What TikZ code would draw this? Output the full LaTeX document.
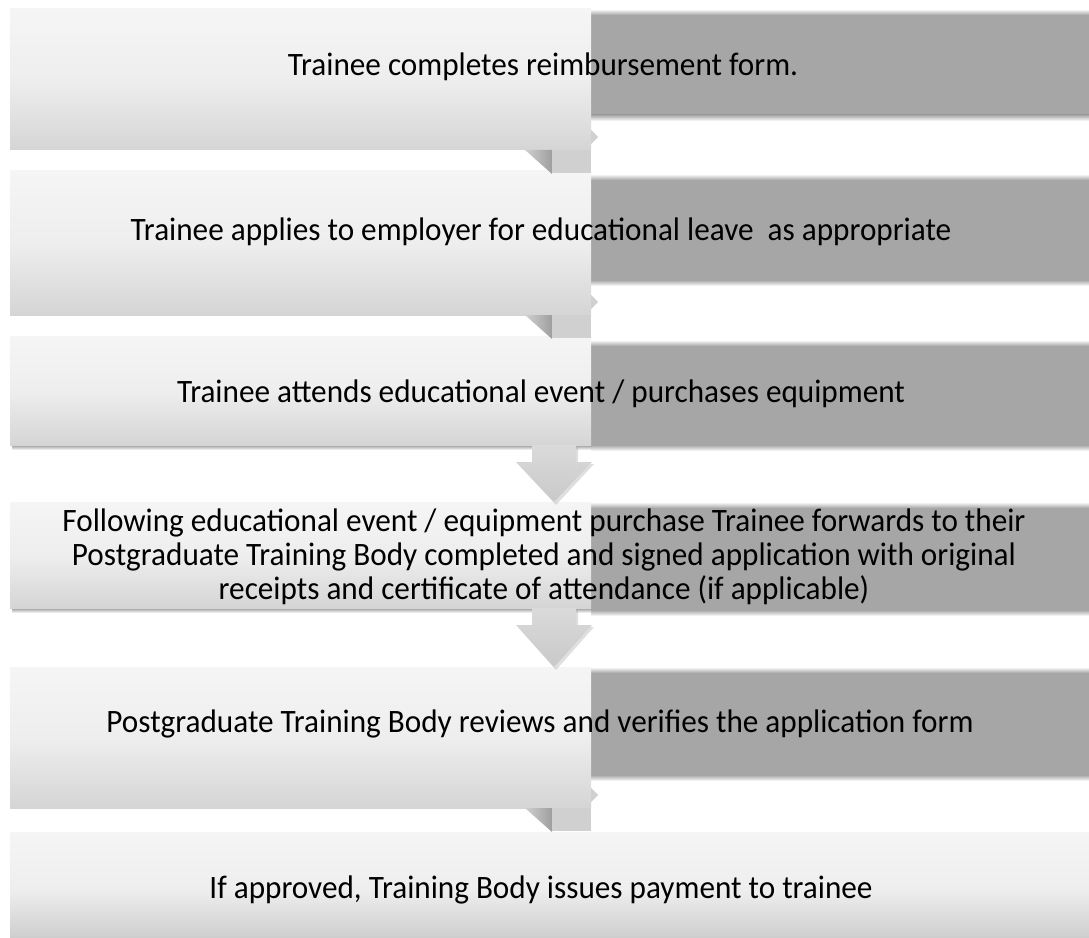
\documentclass[tikz,border=0pt]{standalone}
\usepackage{fontspec}
\setmainfont{Carlito}
\newfontfamily\stepfont[FakeStretch=0.955]{Carlito}
\definecolor{shadowgray}{HTML}{A6A6A6}
\definecolor{lighttop}{HTML}{F5F5F5}
\definecolor{lightmid}{HTML}{EEEEEE}
\definecolor{lightbot}{HTML}{D5D5D5}
\definecolor{stubgray}{HTML}{D0D0D0}
\definecolor{arrowtop}{HTML}{DADADA}
\definecolor{arrowbot}{HTML}{C9C9C9}
\tikzset{
  lightbox/.style={top color=lighttop, bottom color=lightbot, middle color=lightmid},
  steptext/.style={font=\stepfont\fontsize{24.5}{25.5}\selectfont, align=center, inner sep=0pt, text=black},
  arrowfill/.style={top color=arrowtop, bottom color=arrowbot},
  arrowshadow/.style={fill=black!35, opacity=0.35},
  stubfill/.style={fill=stubgray},
  stubshadow/.style={left color=stubgray, right color=black!38},
}
\newcommand\darkpart[2]{%
  \fill[shadowgray] (591,#1+3) rectangle (1089,#2-3);
  \shade[top color=white, bottom color=shadowgray] (591,#1-3) rectangle (1089,#1+3);
  \shade[top color=shadowgray, bottom color=white] (591,#2-3) rectangle (1089,#2+3);
}
\newcommand\stubarrow[1]{%
  \shade[stubshadow] (525,#1) -- (552,#1) -- (552,#1+24) -- cycle;
  \fill[stubfill] (552,#1) rectangle (591,#1+23);
  \fill[stubfill] (591,#1-20) -- (598,#1-13) -- (591,#1-6) -- cycle;
}
\newcommand\flowarrow[2]{%
  \fill[arrowshadow] (534,#1+2) -- (578,#1+2) -- (578,#1+19) -- (594,#1+19) -- (556,#2+3) -- (518,#1+19) -- (534,#1+19) -- cycle;
  \shade[arrowfill] (532,#1) -- (576,#1) -- (576,#1+17) -- (592,#1+17) -- (554,#2) -- (516,#1+17) -- (532,#1+17) -- cycle;
}
\newcommand\boxshadow[1]{%
  \shade[top color=black!40, bottom color=white] (12,#1) rectangle (591,#1+5);
}
\begin{document}
\begin{tikzpicture}[x=0.75pt,y=-0.75pt]
\useasboundingbox (0,0) rectangle (1089,938);
\fill[white] (0,0) rectangle (1089,938);

% row 1
\darkpart{12}{118}
\shade[lightbox] (10,9) rectangle (591,150);
\node[steptext] (t1) at (543,67) {Trainee completes reimbursement form.};

% row 2
\darkpart{177}{283}
\shade[lightbox] (10,171) rectangle (591,315);
\node[steptext] (t2) at (541,232) {Trainee applies to employer for educational leave ~as appropriate};
\stubarrow{150}

% row 3
\darkpart{343}{448}
\boxshadow{445}
\shade[lightbox] (10,336) rectangle (591,445);
\node[steptext] (t3) at (541,394) {Trainee attends educational event / purchases equipment};
\stubarrow{315}

% row 4
\darkpart{505}{613}
\boxshadow{608}
\shade[lightbox] (10,502) rectangle (591,608);
\node[steptext] (t4) at (544,557) {Following educational event / equipment purchase Trainee forwards to their\\Postgraduate Training Body completed and signed application with original\\receipts and certificate of attendance (if applicable)};
\flowarrow{445}{502}

% row 5
\darkpart{670}{778}
\shade[lightbox] (10,667) rectangle (591,808);
\node[steptext] (t5) at (540,724) {Postgraduate Training Body reviews and verifies the application form};
\flowarrow{608}{667}

% row 6
\shade[top color=lighttop, bottom color=black!22, middle color=lightmid] (10,832) rectangle (1089,948);
\node[steptext] (t6) at (541,890) {If approved, Training Body issues payment to trainee};
\stubarrow{808}
\end{tikzpicture}
\end{document}
